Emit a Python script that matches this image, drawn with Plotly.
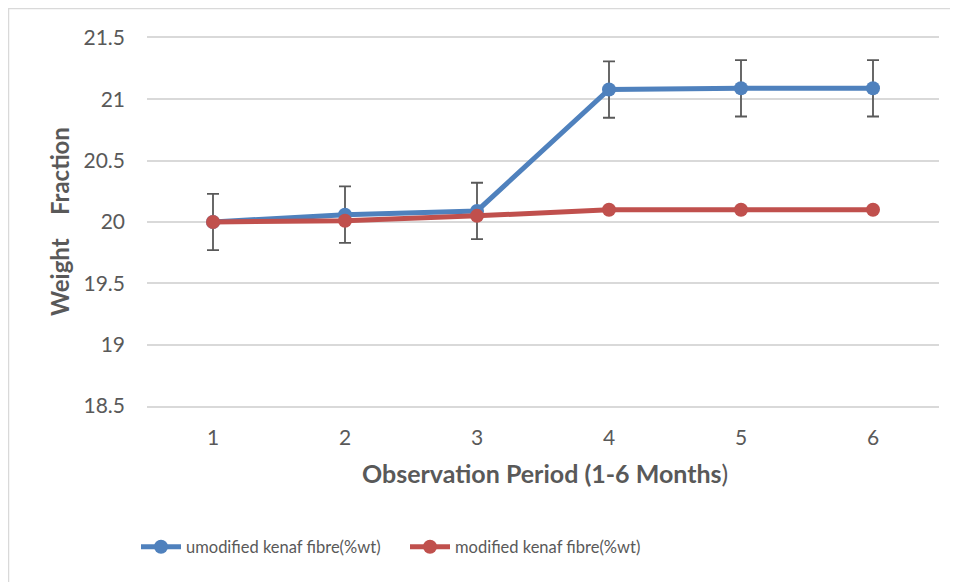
import plotly.graph_objects as go

months = [1, 2, 3, 4, 5, 6]
unmodified = [20.0, 20.06, 20.09, 21.08, 21.09, 21.09]
unmodified_err = [0.23, 0.23, 0.23, 0.23, 0.23, 0.23]
modified = [20.0, 20.01, 20.05, 20.1, 20.1, 20.1]
y_ticks = [18.5, 19, 19.5, 20, 20.5, 21, 21.5]
y_tick_text = ["18.5", "19", "19.5", "20", "20.5", "21", "21.5"]

FONT = "Lato"
GREY = "#595959"
W, H = 958, 582
OFF = 8  # page body margin
L, T = 147 - OFF, 38 - OFF
PW, PH = 792, 368
R, B = W - L - PW, H - T - PH

def px_x(px):
    # px given in screenshot coordinates
    return (px - OFF - L) / PW

def px_y(py):
    return (PH - (py - OFF - T)) / PH

fig = go.Figure()
fig.add_trace(go.Scatter(
    x=months, y=unmodified, mode="lines+markers",
    name="umodified kenaf fibre(%wt)",
    line=dict(color="#4f81bd", width=5),
    marker=dict(color="#4f81bd", size=14),
    error_y=dict(type="data", array=unmodified_err, visible=True,
                 color=GREY, thickness=1.8, width=6),
))
fig.add_trace(go.Scatter(
    x=months, y=modified, mode="lines+markers",
    name="modified kenaf fibre(%wt)",
    line=dict(color="#c0504d", width=5),
    marker=dict(color="#c0504d", size=14),
))

fig.add_shape(type="rect", xref="paper", yref="paper",
              x0=px_x(8.5), x1=px_x(1100), y0=px_y(700), y1=px_y(8.5),
              line=dict(color="#d9d9d9", width=1.5), fillcolor="rgba(0,0,0,0)",
              layer="below")

fig.add_annotation(text="<b>Observation Period (1-6 Months</b>)",
                   xref="paper", yref="paper", x=px_x(545), y=px_y(473),
                   xanchor="center", yanchor="middle", showarrow=False,
                   font=dict(family=FONT, size=25, color=GREY))
fig.add_annotation(text="<b>Weight    Fraction</b>",
                   xref="paper", yref="paper", x=px_x(59), y=px_y(222),
                   xanchor="center", yanchor="middle", showarrow=False,
                   textangle=-90,
                   font=dict(family=FONT, size=24, color=GREY))

fig.update_layout(
    width=W, height=H,
    margin=dict(l=L, r=R, t=T, b=B, pad=0),
    paper_bgcolor="white", plot_bgcolor="white",
    font=dict(family=FONT, color=GREY, size=16),
    showlegend=True,
    legend=dict(orientation="h", x=px_x(136), y=px_y(547),
                xanchor="left", yanchor="middle",
                font=dict(family=FONT, size=16.5, color=GREY),
                entrywidth=214, entrywidthmode="pixels",
                itemwidth=40, tracegroupgap=0, bgcolor="rgba(0,0,0,0)"),
    xaxis=dict(range=[0.5, 6.5], tickvals=months, ticktext=[str(m) for m in months],
               showgrid=False, zeroline=False, ticks="",
               showline=True, linecolor="#d9d9d9", linewidth=1.5, mirror=True,
               ticklabelstandoff=12,
               tickfont=dict(family=FONT, size=21, color=GREY)),
    yaxis=dict(range=[18.5, 21.5], tickvals=y_ticks, ticktext=y_tick_text,
               showgrid=True, gridcolor="#d9d9d9", gridwidth=1.5,
               zeroline=False, showline=False, ticks="",
               ticklabelstandoff=21,
               tickfont=dict(family=FONT, size=21, color=GREY)),
)

fig.write_html("out.html")
